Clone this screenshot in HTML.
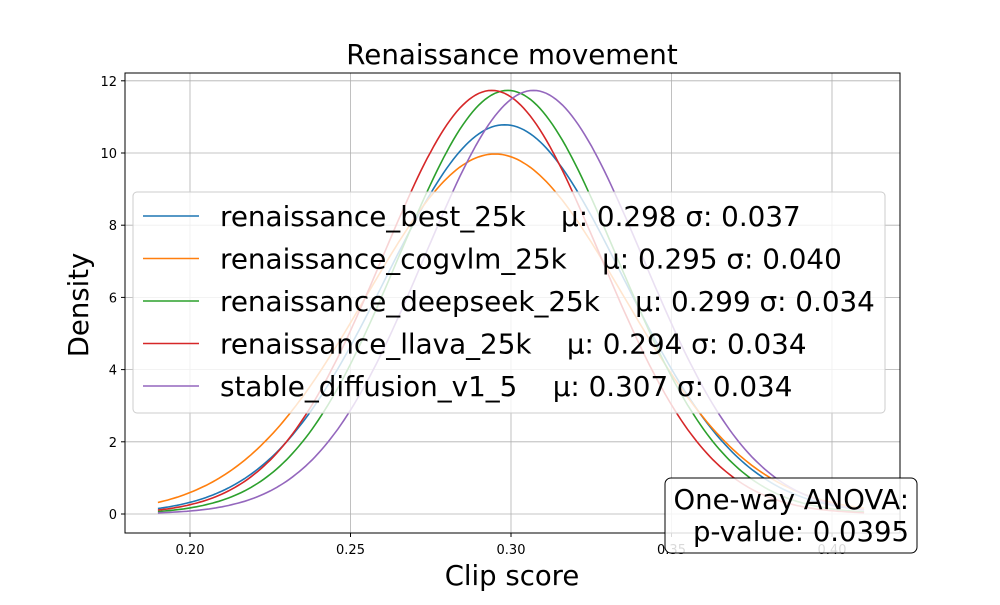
<!DOCTYPE html>
<html><head><meta charset="utf-8"><style>
body{margin:0;background:#fff}
svg{font-family:"DejaVu Sans","Liberation Sans",sans-serif}
</style></head><body>
<svg id="c" width="1000" height="600" viewBox="0 0 1000 600">
<rect width="1000" height="600" fill="#fff"/>
<text x="512" y="64" font-size="27.7" text-anchor="middle">Renaissance movement</text>
<text x="512" y="585" font-size="27.5" text-anchor="middle">Clip score</text>
<text transform="translate(88,305) rotate(-90)" font-size="27.5" text-anchor="middle">Density</text>
<g id="grid"></g><g id="curves"></g>
<rect x="125" y="73" width="775" height="460" fill="none" stroke="#000" stroke-width="1"/>
<g id="ticks"></g>
<g id="legend"></g>
<g>
<rect x="665" y="478" width="252" height="75" rx="6" fill="rgba(255,255,255,0.85)" stroke="#000" stroke-width="1"/>
<text x="909" y="509" font-size="27.5" text-anchor="end">One-way ANOVA:</text>
<text x="909" y="541" font-size="27.5" text-anchor="end">p-value: 0.0395</text>
</g>
</svg>
<script>
const names=["renaissance_best_25k","renaissance_cogvlm_25k","renaissance_deepseek_25k","renaissance_llava_25k","stable_diffusion_v1_5"];
const mus=[0.298,0.295,0.299,0.294,0.307];
const sigmas=[0.037,0.040,0.034,0.034,0.034];
const colors=["#1f77b4","#ff7f0e","#2ca02c","#d62728","#9467bd"];
const xTicks=[0.20,0.25,0.30,0.35,0.40];
const yTicks=[0,2,4,6,8,10,12];
const NS="http://www.w3.org/2000/svg";
const X=v=>190+(v-0.20)/0.05*160.5;
const Y=v=>514-v*36.1;
function mk(t,a,p){const e=document.createElementNS(NS,t);for(const k in a)e.setAttribute(k,a[k]);p.appendChild(e);return e;}
const g=document.getElementById('grid'),tk=document.getElementById('ticks'),cv=document.getElementById('curves'),lg=document.getElementById('legend');
xTicks.forEach(v=>{
 const l=mk('line',{x1:X(v),x2:X(v),y1:73,y2:533,stroke:'#b0b0b0','stroke-width':0.8},g);
 
 
 mk('line',{x1:X(v),x2:X(v),y1:533,y2:537,stroke:'#000'},tk);
 const t=mk('text',{x:X(v),y:554,'font-size':13,'text-anchor':'middle'},tk);t.textContent=v.toFixed(2);
 
 
});
yTicks.forEach(v=>{
 const l=mk('line',{x1:125,x2:900,y1:Y(v),y2:Y(v),stroke:'#b0b0b0','stroke-width':0.8},g);
 
 
 mk('line',{x1:121,x2:125,y1:Y(v),y2:Y(v),stroke:'#000'},tk);
 const t=mk('text',{x:117,y:Y(v)+5,'font-size':13,'text-anchor':'end'},tk);t.textContent=v;
 
 
});
names.forEach((n,i)=>{
 let d='';
 for(let k=0;k<=220;k++){const x=0.19+k*0.001;const y=Math.exp(-0.5*((x-mus[i])/sigmas[i])**2)/(sigmas[i]*Math.sqrt(2*Math.PI));d+=(k?'L':'M')+X(x).toFixed(1)+','+Y(y).toFixed(1);}
 const p=mk('path',{d:d,fill:'none',stroke:colors[i],'stroke-width':1.6},cv);
 
 
});
mk('rect',{x:133,y:192,width:752,height:221,rx:4,fill:'rgba(255,255,255,0.8)',stroke:'#ccc'},lg);
names.forEach((n,i)=>{
 const y=216+i*42.5;
 const l=mk('line',{x1:143,x2:199,y1:y,y2:y,stroke:colors[i],'stroke-width':1.6},lg);
 
 
 const t=mk('text',{x:220,y:y+10,'font-size':27.8,style:'white-space:pre'},lg);
 t.textContent=n+'    μ: '+mus[i].toFixed(3)+' σ: '+sigmas[i].toFixed(3);
 
 
});
</script>
</body></html>
